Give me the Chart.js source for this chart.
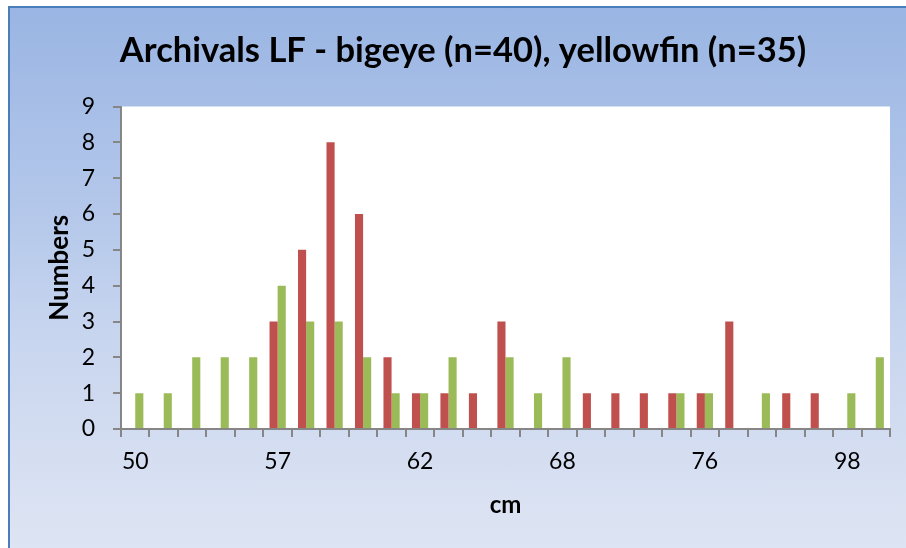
<!DOCTYPE html>
<html>
<head>
<meta charset="utf-8">
<script src="https://cdn.jsdelivr.net/npm/chart.js@4/dist/chart.umd.min.js"></script>
<style>
  html, body { margin: 0; padding: 0; background: #ffffff; width: 906px; height: 548px; overflow: hidden; }
  #frame {
    position: absolute; left: 8px; top: 6px; width: 920px; height: 560px;
    border-left: 2px solid #4a7ebb; border-top: 2px solid #4a7ebb;
    background: linear-gradient(to bottom, #9ab5e3 0%, #b3c7ea 35%, #c9d6ef 60%, #d5def1 80%, #dfe6f4 100%);
  }
  #wrap { position: absolute; left: 0; top: 0; width: 906px; height: 548px; }
</style>
</head>
<body>
<div id="frame"></div>
<div id="wrap"><canvas id="c" width="906" height="548"></canvas></div>
<script>
// Category lengths (cm); only every 5th label is shown on the axis
const categories = ['50','51','53','54','56','57','58','59','60','61','62','63','64','65','66','68','69','71','72','74','76','78','80','85','90','98','100'];
const bigeyeCounts    = [0,0,0,0,0,3,5,8,6,2,1,1,1,3,0,0,1,1,1,1,1,3,0,1,1,0,0];
const yellowfinCounts = [1,1,2,2,2,4,3,3,2,1,1,2,0,2,1,2,0,0,0,1,1,0,1,0,0,1,2];
const yTicksMax = 9;
const chartTitle = 'Archivals LF - bigeye (n=40), yellowfin (n=35)';

const FONT = 'Lato';
// size title to match reference width
const mctx = document.createElement('canvas').getContext('2d');
mctx.font = 'bold 100px ' + FONT;
const titleSize = Math.round(100 * 686 / mctx.measureText(chartTitle).width * 10) / 10;
const titleLH = titleSize * 1.2;
const titlePadTop = 51 - titleLH / 2;
const titlePadBottom = 106.5 - titlePadTop - titleLH;

const plotBg = {
  id: 'plotBg',
  beforeDraw(chart) {
    const {ctx, chartArea: a} = chart;
    ctx.save();
    ctx.fillStyle = '#ffffff';
    ctx.fillRect(a.left, a.top, a.right - a.left, a.bottom - a.top);
    ctx.restore();
  }
};

const axisGray = '#868686';
new Chart(document.getElementById('c'), {
  type: 'bar',
  data: {
    labels: categories,
    datasets: [
      { label: 'bigeye', data: bigeyeCounts, backgroundColor: '#C0504D', borderWidth: 0 },
      { label: 'yellowfin', data: yellowfinCounts, backgroundColor: '#9BBB59', borderWidth: 0 }
    ]
  },
  options: {
    responsive: false,
    devicePixelRatio: 1,
    animation: false,
    layout: { padding: { left: 36, right: 16, top: 0, bottom: 0 } },
    datasets: { bar: { categoryPercentage: 0.57, barPercentage: 1.0 } },
    plugins: {
      legend: { display: false },
      tooltip: { enabled: false },
      title: {
        display: true, text: chartTitle, color: '#000000',
        font: { family: FONT, weight: 'bold', size: titleSize, lineHeight: 1.2 },
        padding: { top: titlePadTop, bottom: titlePadBottom }
      }
    },
    scales: {
      x: {
        afterFit(s) { s.height = 119; },
        grid: { display: true, drawOnChartArea: false, offset: true, tickLength: 8, color: axisGray, lineWidth: 2 },
        border: { display: true, color: axisGray, width: 2 },
        ticks: {
          autoSkip: false, maxRotation: 0, minRotation: 0, color: '#000000', padding: 11,
          font: { family: FONT, size: 23 },
          callback(v, i) { return i % 5 === 0 ? categories[i] : ''; }
        },
        title: { display: true, text: 'cm', color: '#000000', font: { family: FONT, weight: 'bold', size: 24 }, padding: { top: 0, bottom: 28.6 } }
      },
      y: {
        min: 0, max: yTicksMax,
        afterFit(s) { s.width = 85; },
        grid: { display: true, drawOnChartArea: false, tickLength: 8, color: axisGray, lineWidth: 2 },
        border: { display: true, color: axisGray, width: 2 },
        ticks: { stepSize: 1, color: '#000000', padding: 18, font: { family: FONT, size: 23 } },
        title: { display: true, text: 'Numbers', color: '#000000', font: { family: FONT, weight: 'bold', size: 26 }, padding: { top: 8.4, bottom: 0 } }
      }
    }
  },
  plugins: [plotBg]
});
</script>
</body>
</html>
